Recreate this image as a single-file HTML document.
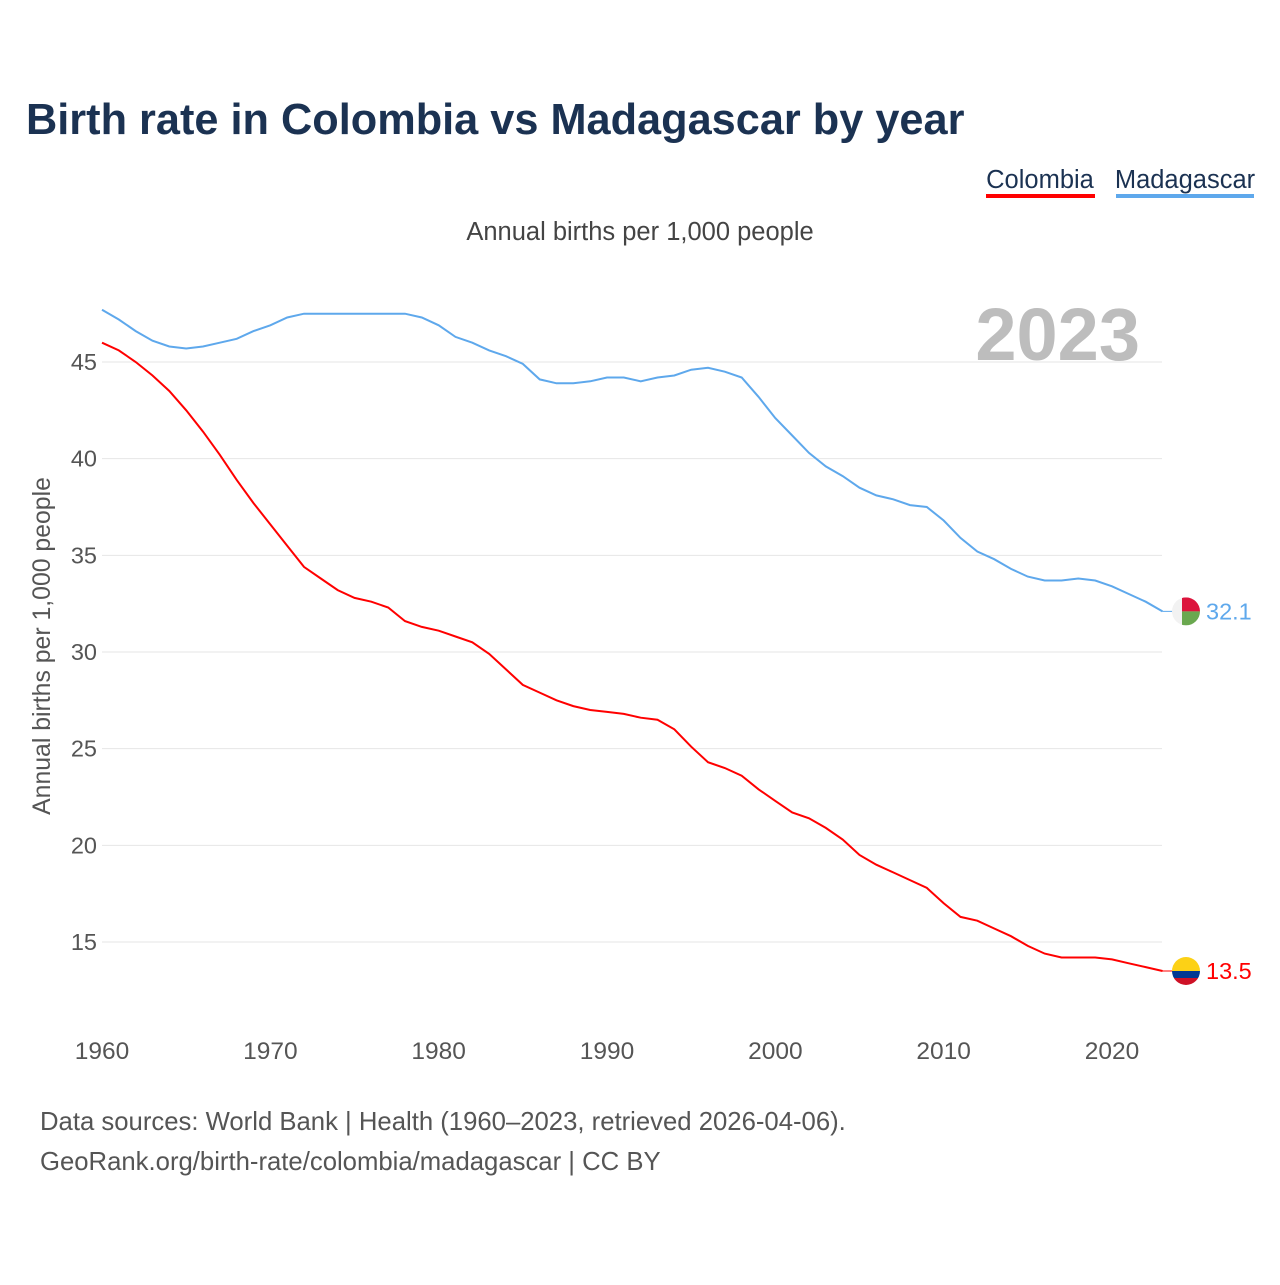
<!DOCTYPE html>
<html><head><meta charset="utf-8"><style>
html,body{margin:0;padding:0;background:#fff;}
body{width:1280px;height:1280px;overflow:hidden;font-family:"Liberation Sans",sans-serif;}
</style></head><body>
<svg id="chart" width="1280" height="1280" xmlns="http://www.w3.org/2000/svg" style="font-family:'Liberation Sans',sans-serif">
<text x="26" y="134" font-size="43.3" font-weight="bold" fill="#1b3252">Birth rate in Colombia vs Madagascar by year</text>
<g>
<text x="1040" y="188" font-size="25.5" fill="#1b3252" text-anchor="middle">Colombia</text>
<rect x="986" y="194" width="109" height="4" fill="#ff0000"/>
<text x="1185" y="188" font-size="25.5" fill="#1b3252" text-anchor="middle">Madagascar</text>
<rect x="1116" y="194" width="138" height="4" fill="#5ea8ec"/>
</g>
<text x="640" y="240" font-size="25.5" fill="#444" text-anchor="middle">Annual births per 1,000 people</text>
<text x="1140" y="360" font-size="74" font-weight="bold" fill="#bdbdbd" text-anchor="end">2023</text>
<text transform="translate(50,646) rotate(-90)" font-size="24.8" fill="#555" text-anchor="middle">Annual births per 1,000 people</text>
<g id="grid"></g><g id="yt"></g><g id="xt"></g><g id="series"></g>
<text x="40" y="1130" font-size="25.7" fill="#555">Data sources: World Bank | Health (1960–2023, retrieved 2026-04-06).</text>
<text x="40" y="1170" font-size="25.7" fill="#555">GeoRank.org/birth-rate/colombia/madagascar | CC BY</text>
</svg>
<script>
const years=[];for(let y=1960;y<=2023;y++)years.push(y);
const colombia=[46.0,45.6,45.0,44.3,43.5,42.5,41.4,40.2,38.9,37.7,36.6,35.5,34.4,33.8,33.2,32.8,32.6,32.3,31.6,31.3,31.1,30.8,30.5,29.9,29.1,28.3,27.9,27.5,27.2,27.0,26.9,26.8,26.6,26.5,26.0,25.1,24.3,24.0,23.6,22.9,22.3,21.7,21.4,20.9,20.3,19.5,19.0,18.6,18.2,17.8,17.0,16.3,16.1,15.7,15.3,14.8,14.4,14.2,14.2,14.2,14.1,13.9,13.7,13.5];
const madagascar=[47.7,47.2,46.6,46.1,45.8,45.7,45.8,46.0,46.2,46.6,46.9,47.3,47.5,47.5,47.5,47.5,47.5,47.5,47.5,47.3,46.9,46.3,46.0,45.6,45.3,44.9,44.1,43.9,43.9,44.0,44.2,44.2,44.0,44.2,44.3,44.6,44.7,44.5,44.2,43.2,42.1,41.2,40.3,39.6,39.1,38.5,38.1,37.9,37.6,37.5,36.8,35.9,35.2,34.8,34.3,33.9,33.7,33.7,33.8,33.7,33.4,33.0,32.6,32.1];
const yTicks=[15,20,25,30,35,40,45];
const xTicks=[1960,1970,1980,1990,2000,2010,2020];
const X=v=>102+(v-1960)*(1010/60);
const Y=v=>362+(45-v)*(580/30);
const NS="http://www.w3.org/2000/svg";
function mk(tag,attrs,parent,txt){const e=document.createElementNS(NS,tag);for(const k in attrs)e.setAttribute(k,attrs[k]);if(txt!==undefined)e.textContent=txt;document.getElementById(parent).appendChild(e);return e;}
yTicks.forEach(t=>{
 const l=mk('line',{x1:102,x2:1162,y1:Y(t),y2:Y(t),stroke:'#e6e6e6','stroke-width':1},'grid');
 
 
 const tx=mk('text',{x:97,y:Y(t)+8,'font-size':23.5,fill:'#555','text-anchor':'end'},'yt',String(t));
 
 
});
xTicks.forEach(t=>{
 const tx=mk('text',{x:X(t),y:1059,'font-size':24.5,fill:'#555','text-anchor':'middle'},'xt',String(t));
 
 
});
function line(arr,color,name){
 const d=arr.map((v,i)=>(i?'L':'M')+X(years[i]).toFixed(1)+' '+Y(v).toFixed(1)).join(' ');
 const p=mk('path',{d:d,fill:'none',stroke:color,'stroke-width':2},'series');
 
 
 const lv=arr[arr.length-1],ly=Y(lv);
 mk('line',{x1:X(2023),x2:1180,y1:ly,y2:ly,stroke:color,'stroke-width':1},'series');
 const t=mk('text',{x:1206,y:ly+8,'font-size':23.5,fill:color},'series',lv.toFixed(1));
 
 
 return ly;
}
const yc=line(colombia,'#ff0000','colombia');
const ym=line(madagascar,'#5ea8ec','madagascar');
const cx=1186;
let g=mk('g',{},'series');
const cp1=mk('clipPath',{id:'cc'},'series');const c1=document.createElementNS(NS,'circle');c1.setAttribute('cx',cx);c1.setAttribute('cy',yc);c1.setAttribute('r',14);cp1.appendChild(c1);
[['#fcd116',-14,14],['#003893',0,7],['#ce1126',7,7]].forEach(([c,o,h])=>{const r=document.createElementNS(NS,'rect');r.setAttribute('x',cx-14);r.setAttribute('y',yc+o);r.setAttribute('width',28);r.setAttribute('height',h);r.setAttribute('fill',c);r.setAttribute('clip-path','url(#cc)');g.appendChild(r);});
let g2=mk('g',{},'series');
const cp=mk('clipPath',{id:'cm'},'series');const cc2=document.createElementNS(NS,'circle');cc2.setAttribute('cx',cx);cc2.setAttribute('cy',ym);cc2.setAttribute('r',14);cp.appendChild(cc2);
[['#f2f2f2',-14,-14,10,28],['#dc143c',-4,-14,18,14],['#6aa84f',-4,0,18,14]].forEach(([c,ox,oy,w,h])=>{const r=document.createElementNS(NS,'rect');r.setAttribute('x',cx+ox);r.setAttribute('y',ym+oy);r.setAttribute('width',w);r.setAttribute('height',h);r.setAttribute('fill',c);r.setAttribute('clip-path','url(#cm)');g2.appendChild(r);});
</script>
</body></html>
